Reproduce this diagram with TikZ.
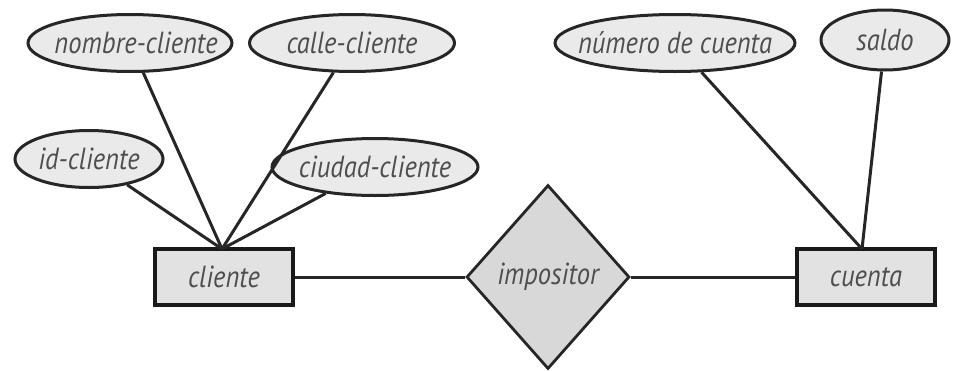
\documentclass[tikz,border=0pt]{standalone}
\usepackage{fontspec}
\setmainfont{PT Sans}[FakeStretch=0.87]
\usetikzlibrary{shapes.geometric}
\definecolor{txt}{HTML}{4E4E4E}
\definecolor{efill}{HTML}{EAEAEA}
\definecolor{rfill}{HTML}{E2E2E2}
\definecolor{dfill}{HTML}{D8D8D8}
\tikzset{
  lbl/.style={text=txt, font=\fontsize{30.5}{33}\selectfont\itshape, inner sep=0pt},
  attr/.style={ellipse, draw=black!85, line width=3pt, fill=efill, inner sep=0pt,
    minimum height=57pt},
  ent/.style={rectangle, draw=black!90, line width=3.2pt, fill=rfill, inner sep=0pt,
    minimum width=138pt, minimum height=56pt},
  rel/.style={diamond, draw=black!85, line width=2.8pt, fill=dfill, inner sep=0pt,
    minimum width=163pt, minimum height=184pt},
  link/.style={line width=3pt, draw=black!85}
}
\begin{document}
\begin{tikzpicture}[x=1pt,y=-1pt]
\useasboundingbox (0,0) rectangle (953,370);
% entities and relationship
\node[ent, label={[lbl]center:cliente}] (cliente) at (224,277) {};
\node[ent, label={[lbl]center:cuenta}] (cuenta) at (866,277) {};
\node[rel, label={[lbl]center:impositor}] (impositor) at (548,277) {};
% attributes
\node[attr, minimum width=204pt, label={[lbl,xshift=6pt]center:nombre-cliente}] (nombre) at (130,43) {};
\node[attr, minimum width=205pt, label={[lbl]center:calle-cliente}] (calle) at (352,43) {};
\node[attr, minimum width=148pt, label={[lbl]center:id-cliente}] (id) at (89,159) {};
\node[attr, minimum width=206pt, label={[lbl]center:ciudad-cliente}] (ciudad) at (375,167) {};
\node[attr, minimum width=240pt, label={[lbl]center:número de cuenta}] (numero) at (675,43) {};
\node[attr, minimum width=128pt, minimum height=60pt, label={[lbl]center:saldo}] (saldo) at (885,40) {};
% junction points
\coordinate (ctop) at (222,249);
\coordinate (qtop) at (862,249);
% connectors
\draw[link] (nombre) -- (ctop);
\draw[link] (calle) -- (ctop);
\draw[link] (id) -- (ctop);
\draw[link] (ciudad) -- (ctop);
\draw[link] (numero) -- (qtop);
\draw[link] (saldo) -- (qtop);
\draw[link] (cliente) -- (impositor);
\draw[link] (impositor) -- (cuenta);
\end{tikzpicture}
\end{document}
